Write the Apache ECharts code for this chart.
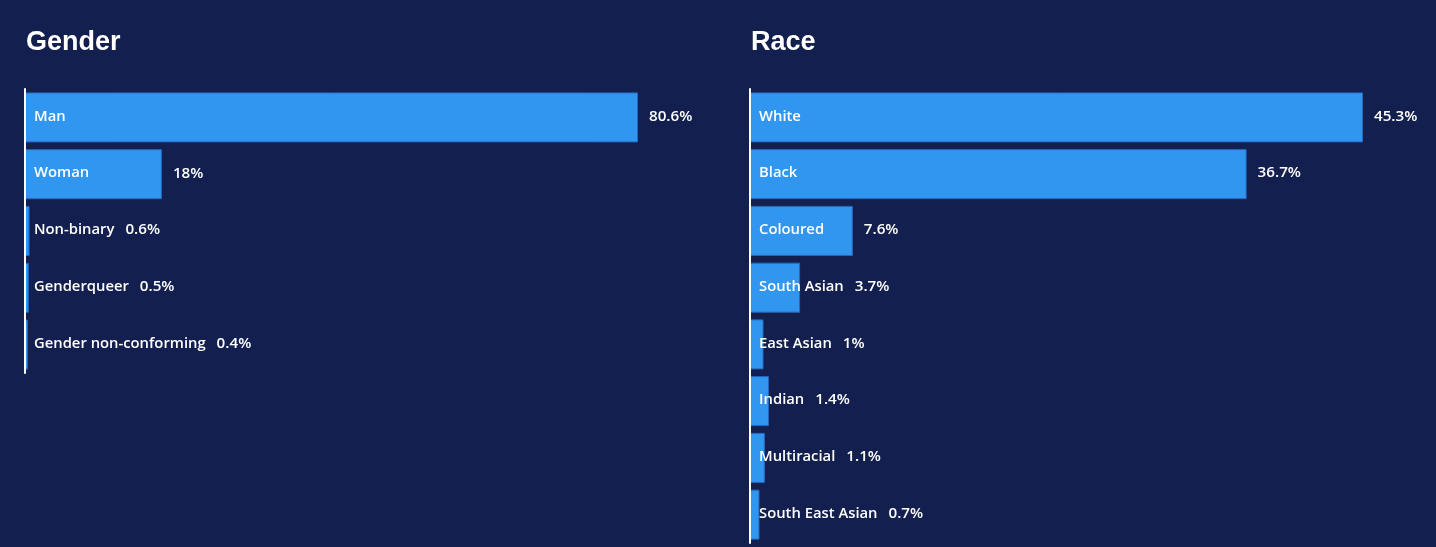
<!DOCTYPE html>
<html>
<head>
<meta charset="utf-8">
<script src="https://cdn.jsdelivr.net/npm/echarts@6/dist/echarts.min.js"></script>
<style>
html,body{margin:0;padding:0;background:#13204f;}
#chart{width:1436px;height:547px;}
</style>
</head>
<body>
<div id="chart"></div>
<script>
const genderCategories = ['Man', 'Woman', 'Non-binary', 'Genderqueer', 'Gender non-conforming'];
const genderValues = [80.6, 18, 0.6, 0.5, 0.4];
const raceCategories = ['White', 'Black', 'Coloured', 'South Asian', 'East Asian', 'Indian', 'Multiracial', 'South East Asian'];
const raceValues = [45.3, 36.7, 7.6, 3.7, 1, 1.4, 1.1, 0.7];
const titles = ['Gender', 'Race'];

const NAME_FONT = '600 14.8px "Open Sans"';
const VALUE_FONT = '600 15.2px "Open Sans"';
const measureCtx = document.createElement('canvas').getContext('2d');
function textWidth(t, font) { measureCtx.font = font; return measureCtx.measureText(t).width; }

function labelSeries(idx, cats, vals) {
  return {
    type: 'custom',
    xAxisIndex: idx, yAxisIndex: idx,
    z: 5,
    encode: { x: 0, y: 1 },
    data: vals.map((v, i) => [v, i]),
    renderItem: function (params, api) {
      const v = api.value(0);
      const i = api.value(1);
      const start = api.coord([0, i]);
      const end = api.coord([v, i]);
      const name = cats[i];
      const nameX = start[0] + 9;
      const nameEnd = nameX + textWidth(name, NAME_FONT);
      const valX = Math.max(end[0], nameEnd) + 11;
      return {
        type: 'group',
        children: [
          { type: 'text', style: { text: name, x: nameX, y: start[1] - 1, fill: '#ffffff', font: NAME_FONT, verticalAlign: 'middle' } },
          { type: 'text', style: { text: v + '%', x: valX, y: start[1] - 1, fill: '#ffffff', font: VALUE_FONT, verticalAlign: 'middle' } }
        ]
      };
    }
  };
}

function barSeries(idx, vals) {
  return {
    type: 'bar',
    xAxisIndex: idx, yAxisIndex: idx,
    data: vals,
    barWidth: 50,
    itemStyle: { color: '#3196f0', borderColor: '#2569bf', borderWidth: 1 },
    silent: true
  };
}

const chart = echarts.init(document.getElementById('chart'));
chart.setOption({
  backgroundColor: '#13204f',
  animation: false,
  title: [
    { text: titles[0], left: 21, top: 24, textStyle: { color: '#ffffff', fontSize: 27, fontWeight: 'bold', fontFamily: 'Liberation Sans' } },
    { text: titles[1], left: 746, top: 24, textStyle: { color: '#ffffff', fontSize: 27, fontWeight: 'bold', fontFamily: 'Liberation Sans' } }
  ],
  grid: [
    { left: 25, top: 89, width: 613, height: 284 },
    { left: 750, top: 89, width: 613, height: 454 }
  ],
  xAxis: [
    { type: 'value', gridIndex: 0, min: 0, max: 'dataMax', show: false },
    { type: 'value', gridIndex: 1, min: 0, max: 'dataMax', show: false }
  ],
  yAxis: [
    { type: 'category', gridIndex: 0, data: genderCategories, inverse: true, z: 10,
      axisLine: { show: true, lineStyle: { color: '#ffffff', width: 2 } }, axisTick: { show: false }, axisLabel: { show: false }, splitLine: { show: false } },
    { type: 'category', gridIndex: 1, data: raceCategories, inverse: true, z: 10,
      axisLine: { show: true, lineStyle: { color: '#ffffff', width: 2 } }, axisTick: { show: false }, axisLabel: { show: false }, splitLine: { show: false } }
  ],
  series: [
    barSeries(0, genderValues),
    barSeries(1, raceValues),
    labelSeries(0, genderCategories, genderValues),
    labelSeries(1, raceCategories, raceValues)
  ]
});
</script>
</body>
</html>
